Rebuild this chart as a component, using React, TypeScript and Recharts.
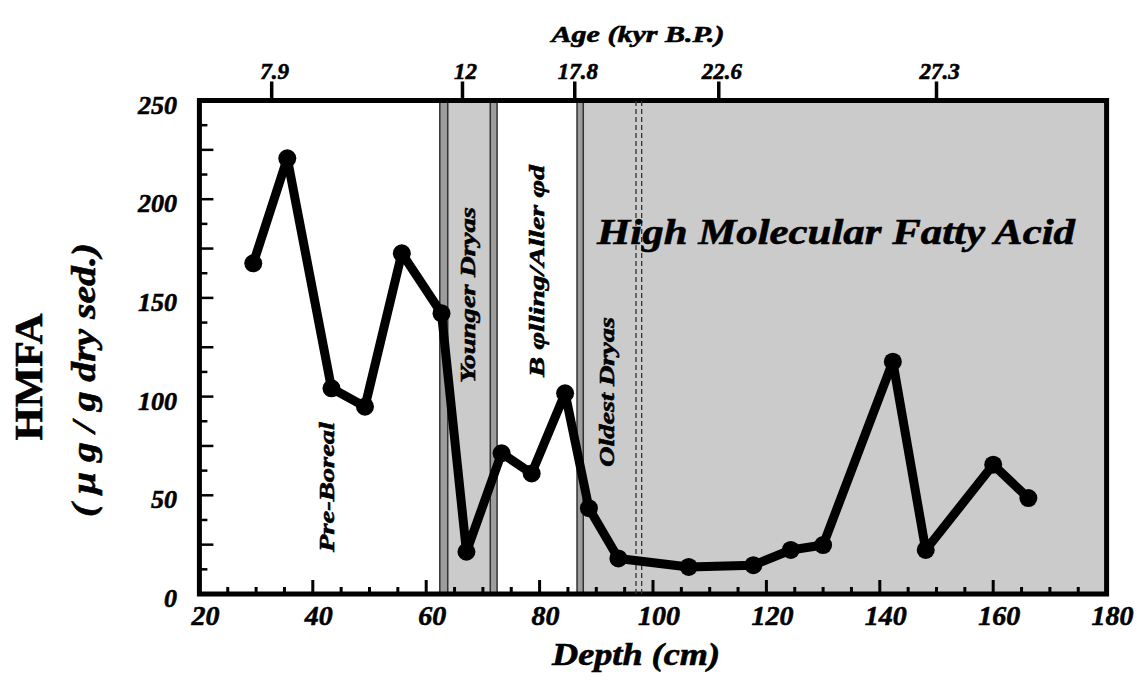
import { Label, Line, LineChart, ReferenceArea, ReferenceLine, XAxis, YAxis } from "recharts";

// core depth (cm) and HMFA concentration (ug / g dry sed.)
const DEPTH_CM = [29.5, 35.5, 43.3, 49.2, 55.7, 62.7, 67.1, 73.3, 78.6, 84.5, 88.7, 93.9, 106.3, 117.7, 124.3, 130.0, 142.3, 148.1, 160.0, 166.2];
const HMFA = [167.5, 220.7, 104.2, 94.9, 172.6, 142.2, 21.4, 71.3, 61.1, 101.7, 43.5, 18.0, 13.7, 14.6, 22.3, 24.8, 117.7, 22.3, 65.5, 48.6];

// top axis: age ticks placed at depth
const AGE_DEPTHS = [32.75, 66.4, 86.2, 111.6, 150.0];
const AGE_LABELS = ["7.9", "12", "17.8", "22.6", "27.3"];

const DEPTH_DOMAIN = [20, 180];
const DEPTH_TICKS = [20, 25, 30, 35, 40, 45, 50, 55, 60, 65, 70, 75, 80, 85, 90, 95, 100, 105, 110, 115, 120, 125, 130, 135, 140, 145, 150, 155, 160, 165, 170, 175, 180];
const HMFA_TICKS = [0, 12.5, 25, 37.5, 50, 62.5, 75, 87.5, 100, 112.5, 125, 137.5, 150, 162.5, 175, 187.5, 200, 212.5, 225, 237.5, 250];

// climate zones (depth, cm)
const YD_EDGE_L = [62.4, 63.8];
const YD_BAND = [63.8, 71.3];
const YD_EDGE_R = [71.3, 72.5];
const OD_EDGE = [86.6, 87.7];
const OD_BAND = [87.7, 180];
const DASHED = [97.0, 98.0];

const PLOT_TOP = 100.5;

const data = DEPTH_CM.map((d, i) => ({ depth: d, hmfa: HMFA[i] }));

const FONT = {
  fontFamily: "'Liberation Serif', Tinos, 'Times New Roman', serif",
  fontWeight: 700,
  fontStyle: "italic" as const,
  fill: "#000",
  stroke: "#000",
  strokeWidth: 0.6,
};

const DepthTick = (props: any) => {
  const { x, y, payload } = props;
  const major = payload.value % 20 === 0;
  return (
    <g>
      <rect x={x - 1.5} y={y - (major ? 14 : 7)} width={3} height={major ? 14 : 7} fill="#000" />
      {major && (
        <text x={x + 6} y={y + 31} textAnchor="middle" style={{ ...FONT, fontSize: 28 }}>
          {payload.value}
        </text>
      )}
    </g>
  );
};

const HmfaTick = (props: any) => {
  const { x, y, payload } = props;
  const v = payload.value;
  return (
    <g>
      <line x1={x} x2={x + (v % 25 === 0 ? 14 : 8)} y1={y} y2={y} stroke="#000" strokeWidth={2.5} />
      {v % 50 === 0 && (
        <text x={177} y={y + 13} textAnchor="end" style={{ ...FONT, fontSize: 26 }}>
          {v}
        </text>
      )}
    </g>
  );
};

function VText({ x, y, len, size, children, italic = true }: any) {
  return (
    <text
      transform={`translate(${x}, ${y}) rotate(-90)`}
      textAnchor="middle"
      dominantBaseline="central"
      textLength={len}
      lengthAdjust="spacingAndGlyphs"
      style={{ ...FONT, fontStyle: italic ? "italic" : "normal", fontSize: size }}
    >
      {children}
    </text>
  );
}

// top "Age" axis drawn from the depth axis geometry
const AgeAxis = ({ vb }: any) => {
  const toPx = (d: number) => vb.x + ((d - DEPTH_DOMAIN[0]) / (DEPTH_DOMAIN[1] - DEPTH_DOMAIN[0])) * vb.width;
  return (
    <g>
      {AGE_DEPTHS.map((d, i) => (
        <g key={d}>
          <rect x={toPx(d) - 1.75} y={PLOT_TOP - 19} width={3.5} height={19} fill="#000" />
          <text x={toPx(d) + 3} y={PLOT_TOP - 22} textAnchor="middle" style={{ ...FONT, fontSize: 23 }}>
            {AGE_LABELS[i]}
          </text>
        </g>
      ))}
    </g>
  );
};

const Annotations = (props: any) => (
  <g>
    <AgeAxis vb={props.viewBox} />
    <VText x={326} y={487} len={130} size={22}>Pre-Boreal</VText>
    <VText x={467} y={295} len={176} size={22}>Younger Dryas</VText>
    <VText x={536} y={271} len={212} size={22}>B φlling/Aller φd</VText>
    <VText x={607} y={392} len={150} size={21}>Oldest Dryas</VText>
    <text x={836} y={244} textAnchor="middle" textLength={478} lengthAdjust="spacingAndGlyphs" style={{ ...FONT, fontSize: 36 }}>
      High Molecular Fatty Acid
    </text>
    <text x={636} y={665} textAnchor="middle" textLength={168} lengthAdjust="spacingAndGlyphs" style={{ ...FONT, fontSize: 31 }}>
      Depth (cm)
    </text>
    <text x={638} y={42} textAnchor="middle" textLength={173} lengthAdjust="spacingAndGlyphs" style={{ ...FONT, fontSize: 23 }}>
      Age (kyr B.P.)
    </text>
    <VText x={28} y={377} len={127} size={40} italic={false}>HMFA</VText>
    <VText x={83} y={380} len={274} size={34}>( μ g / g dry sed.)</VText>
  </g>
);

export default function App() {
  return (
    <div style={{ position: "absolute", left: 0, top: 0, width: 1137, height: 680, background: "#fff" }}>
      <LineChart width={1137} height={680} data={data} margin={{ top: PLOT_TOP, right: 30.4, bottom: 46, left: 139.4 }}>
        <XAxis
          dataKey="depth"
          type="number"
          domain={DEPTH_DOMAIN}
          ticks={DEPTH_TICKS}
          interval={0}
          tickSize={0}
          tickMargin={0}
          axisLine={false}
          tick={DepthTick}
          height={40}
        >
          <Label content={(p: any) => <Annotations {...p} />} />
        </XAxis>
        <YAxis
          type="number"
          domain={[0, 250]}
          ticks={HMFA_TICKS}
          interval={0}
          tickSize={0}
          tickMargin={0}
          axisLine={false}
          tick={HmfaTick}
          width={60}
        />
        <ReferenceArea x1={YD_BAND[0]} x2={YD_BAND[1]} y1={0} y2={250} fill="#cbcbcb" fillOpacity={1} />
        <ReferenceArea x1={OD_BAND[0]} x2={OD_BAND[1]} y1={0} y2={250} fill="#cbcbcb" fillOpacity={1} />
        <ReferenceArea x1={YD_EDGE_L[0]} x2={YD_EDGE_L[1]} y1={0} y2={250} fill="#9d9d9d" fillOpacity={1} stroke="#333" strokeWidth={1.5} />
        <ReferenceArea x1={YD_EDGE_R[0]} x2={YD_EDGE_R[1]} y1={0} y2={250} fill="#9d9d9d" fillOpacity={1} stroke="#333" strokeWidth={1.5} />
        <ReferenceArea x1={OD_EDGE[0]} x2={OD_EDGE[1]} y1={0} y2={250} fill="#9d9d9d" fillOpacity={1} stroke="#333" strokeWidth={1.5} />
        <ReferenceLine x={DASHED[0]} stroke="#333" strokeWidth={1.3} strokeDasharray="5 3" />
        <ReferenceLine x={DASHED[1]} stroke="#333" strokeWidth={1.3} strokeDasharray="5 3" />
        <Line
          dataKey="hmfa"
          type="linear"
          stroke="#000"
          strokeWidth={9}
          strokeLinejoin="round"
          dot={{ r: 9, fill: "#000", stroke: "#000", strokeWidth: 0 }}
          isAnimationActive={false}
        />
        <ReferenceArea x1={20} x2={180} y1={0} y2={250} fill="none" stroke="#000" strokeWidth={5} />
      </LineChart>
    </div>
  );
}
